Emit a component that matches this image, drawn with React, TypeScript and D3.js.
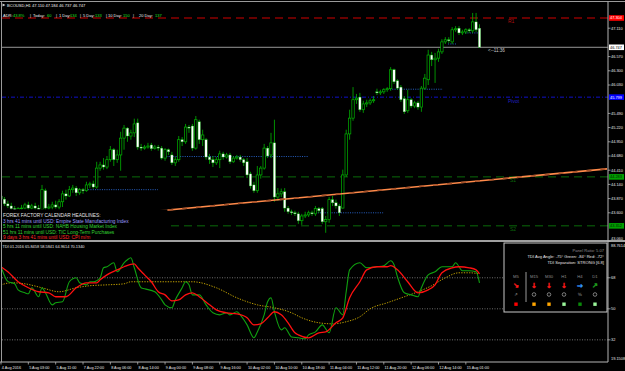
import React from "react";
import * as d3 from "d3";

const FONT = "'Liberation Sans', Arial, sans-serif";

const symbolHeader = "BCOUSD,H1  47.110 47.184 46.737 46.747";
const adrParts: [string, boolean][] = [
  ["ADR:", false], ["43.8%", true], ["|", false], ["Today:", false], ["60", true],
  ["|", false], ["1 Day:", false], ["134", true], ["|", false], ["5 Day:", false], ["133", true],
  ["|", false], ["10 Day:", false], ["150", true], ["|", false], ["20 Day:", false], ["137", true],
];
const adrX = [3, 13, 30, 33, 47, 56, 59, 70, 80, 83, 95, 106, 108, 123, 133, 139, 155];

const timeLabels = [
  "4 Aug 2016", "5 Aug 03:00", "5 Aug 11:00", "7 Aug 22:00", "8 Aug 06:00", "8 Aug 14:00",
  "9 Aug 00:00", "9 Aug 08:00", "9 Aug 16:00", "10 Aug 02:00", "10 Aug 10:00", "10 Aug 18:00",
  "11 Aug 04:00", "11 Aug 12:00", "11 Aug 20:00", "12 Aug 06:00", "12 Aug 14:00", "15 Aug 01:00",
];
const barsPerLabel = 8;

const priceTicks = [47.38, 47.11, 46.84, 46.57, 46.3, 46.03, 45.76, 45.49, 45.22, 44.95, 44.68, 44.41, 44.14, 43.87, 43.6, 43.33, 43.06];

// [open, high, low, close]
const ohlc: number[][] = [
  [43.92, 43.98, 43.83, 43.86], [43.86, 43.90, 43.73, 43.77], [43.77, 43.83, 43.69, 43.73], [43.73, 43.79, 43.64, 43.68],
  [43.68, 43.73, 43.60, 43.64], [43.64, 43.71, 43.58, 43.68], [43.68, 43.75, 43.62, 43.69], [43.69, 43.79, 43.66, 43.75],
  [43.75, 43.81, 43.64, 43.69], [43.69, 43.77, 43.66, 43.73], [43.73, 43.79, 43.64, 43.69], [43.69, 43.75, 43.60, 43.66],
  [43.66, 44.13, 43.62, 44.04], [44.02, 44.06, 43.62, 43.69], [43.69, 43.77, 43.64, 43.71], [43.71, 43.81, 43.66, 43.75],
  [43.75, 43.83, 43.68, 43.71], [43.71, 43.86, 43.66, 43.81], [43.81, 44.02, 43.71, 43.96], [43.96, 44.04, 43.85, 43.92],
  [43.92, 44.11, 43.90, 44.04], [44.04, 44.13, 43.98, 44.07], [44.07, 44.11, 43.92, 43.98], [43.98, 44.07, 43.94, 44.04],
  [44.04, 44.07, 43.96, 44.02], [44.02, 44.19, 44.00, 44.13], [44.13, 44.19, 44.07, 44.15], [44.15, 44.21, 44.06, 44.09],
  [44.09, 44.57, 44.06, 44.45], [44.45, 44.57, 44.40, 44.51], [44.51, 44.64, 44.42, 44.47], [44.47, 44.68, 44.43, 44.61],
  [44.61, 44.87, 44.57, 44.80], [44.80, 44.83, 44.49, 44.61], [44.61, 44.80, 44.55, 44.70], [44.70, 45.14, 44.40, 45.02],
  [45.02, 45.27, 44.80, 45.21], [45.21, 45.23, 44.95, 45.06], [45.06, 45.18, 44.99, 45.12], [45.12, 45.39, 45.04, 45.29],
  [45.31, 45.39, 44.80, 44.85], [44.85, 44.91, 44.78, 44.83], [44.83, 44.89, 44.80, 44.85], [44.85, 44.93, 44.82, 44.87],
  [44.89, 44.93, 44.78, 44.82], [44.82, 44.89, 44.80, 44.85], [44.85, 44.89, 44.78, 44.83], [44.83, 44.87, 44.61, 44.64],
  [44.64, 44.83, 44.59, 44.80], [44.80, 44.82, 44.70, 44.76], [44.70, 44.76, 44.51, 44.55], [44.55, 44.66, 44.49, 44.61],
  [44.61, 45.06, 44.57, 44.99], [44.99, 45.04, 44.87, 44.95], [44.95, 45.29, 44.91, 45.23], [45.23, 45.27, 45.12, 45.21],
  [45.25, 45.29, 44.78, 44.83], [44.83, 45.44, 44.80, 45.37], [45.33, 45.37, 44.91, 44.99], [44.99, 45.18, 44.87, 45.08],
  [44.99, 45.02, 44.61, 44.66], [44.66, 44.72, 44.53, 44.61], [44.61, 44.68, 44.47, 44.55], [44.55, 44.66, 44.51, 44.61],
  [44.61, 44.78, 44.45, 44.72], [44.72, 44.76, 44.61, 44.66], [44.66, 44.74, 44.63, 44.70], [44.70, 44.74, 44.53, 44.57],
  [44.57, 44.68, 44.55, 44.64], [44.64, 44.70, 44.61, 44.66], [44.66, 44.70, 44.57, 44.61], [44.61, 44.64, 44.49, 44.55],
  [44.57, 44.64, 44.26, 44.32], [44.34, 44.38, 44.06, 44.11], [44.13, 44.19, 43.98, 44.02], [44.02, 44.49, 43.98, 44.32],
  [44.32, 44.49, 44.25, 44.45], [44.45, 44.91, 44.42, 44.83], [44.83, 44.87, 44.64, 44.68], [44.70, 45.12, 44.64, 44.93],
  [44.93, 45.37, 43.81, 43.90], [43.90, 44.07, 43.83, 43.96], [43.96, 44.06, 43.90, 44.00], [44.00, 44.07, 43.62, 43.69],
  [43.69, 43.73, 43.58, 43.62], [43.62, 43.66, 43.56, 43.60], [43.60, 43.64, 43.54, 43.58], [43.58, 43.62, 43.39, 43.45],
  [43.45, 43.58, 43.37, 43.54], [43.54, 43.62, 43.50, 43.56], [43.56, 43.64, 43.52, 43.60], [43.60, 43.64, 43.54, 43.58],
  [43.58, 43.73, 43.54, 43.68], [43.68, 43.71, 43.60, 43.64], [43.68, 43.71, 43.39, 43.43], [43.43, 43.54, 43.22, 43.47],
  [43.47, 43.90, 43.41, 43.85], [43.85, 43.92, 43.73, 43.79], [43.79, 43.85, 43.68, 43.73], [43.73, 43.77, 43.54, 43.60],
  [43.69, 44.42, 43.68, 44.32], [44.32, 45.18, 44.28, 45.10], [45.10, 45.56, 44.99, 45.40], [45.40, 45.99, 45.35, 45.75],
  [45.75, 45.86, 45.67, 45.78], [45.80, 45.88, 45.52, 45.56], [45.56, 45.73, 45.50, 45.67], [45.67, 45.75, 45.61, 45.69],
  [45.69, 45.77, 45.65, 45.73], [45.73, 45.82, 45.69, 45.75], [45.90, 45.96, 45.84, 45.88], [45.88, 45.94, 45.84, 45.90],
  [45.90, 45.97, 45.86, 45.94], [45.94, 45.99, 45.90, 45.96], [45.96, 46.37, 45.92, 46.32], [46.32, 46.34, 46.05, 46.09],
  [46.11, 46.14, 45.94, 45.97], [45.99, 46.03, 45.71, 45.75], [45.77, 45.82, 45.48, 45.52], [45.54, 45.94, 45.50, 45.75],
  [45.75, 45.78, 45.59, 45.63], [45.63, 45.73, 45.59, 45.69], [45.69, 45.73, 45.56, 45.61], [45.61, 46.01, 45.52, 45.97],
  [45.97, 46.24, 45.94, 46.16], [46.13, 46.70, 46.03, 46.60], [46.60, 46.66, 46.39, 46.51], [46.51, 46.64, 46.07, 46.54],
  [46.54, 46.72, 46.47, 46.66], [46.66, 46.90, 46.62, 46.85], [46.85, 46.94, 46.81, 46.89], [46.89, 46.94, 46.83, 46.87],
  [46.85, 47.13, 46.81, 47.08], [47.08, 47.15, 47.04, 47.10], [47.11, 47.15, 46.98, 47.02], [47.02, 47.08, 46.98, 47.04],
  [47.04, 47.11, 47.00, 47.08], [47.08, 47.11, 47.02, 47.06], [47.06, 47.40, 47.02, 47.23], [47.23, 47.40, 47.04, 47.08],
  [47.11, 47.184, 46.737, 46.747],
];

const bidPrice = 46.747;
const pivotR1 = 47.304;
const pivotP = 45.799;
const pivotS1 = 44.283;
const pivotS2 = 43.352;
const countdown = "<--11:36";

// [startBar, endBar, price]
const dailyOpens: number[][] = [
  [25.5, 45.9, 44.04], [47.7, 90.1, 44.67], [92.7, 111.8, 43.6], [113.8, 129.3, 45.95], [130.8, 133.1, 46.81], [135.8, 139.6, 47.02],
];
const trendline: number[][] = [[0, 43.355], [177.3, 44.435]];

const headlines: [string, string][] = [
  ["FOREX FACTORY CALENDAR HEADLINES:", "#e6e6e6"],
  ["3 hrs 41 mins until USD: Empire State Manufacturing Index", "#9c9cff"],
  ["5 hrs 11 mins until USD: NAHB Housing Market Index", "#33d633"],
  ["51 hrs 11 mins until USD: TIC Long-Term Purchases", "#33d633"],
  ["9 days 3 hrs 41 mins until USD: CPI m/m", "#ff2424"],
];

const tdiTitle = "TDI 01.2016 65.8458 58.5841 64.9614 70.1340";
const tdiMin = 19.1508;
const tdiMax = 88.7614;
const tdiLevels = [68, 50, 32];

const tdiGreen: number[][] = [
  [0, 74.6], [2, 65.9], [4, 64.5], [5, 61.0], [7, 59.3], [8, 58.7], [9, 62.2], [11, 57.0], [12, 62.2], [13, 59.3],
  [15, 52.3], [16, 53.5], [18, 54.1], [20, 65.7], [22, 68.0], [23, 65.1], [25, 63.9], [26, 65.7], [27, 65.7], [29, 68.0],
  [30, 73.8], [31, 74.4], [33, 76.7], [34, 71.5], [36, 76.7], [37, 78.5], [38, 79.6], [39, 73.8], [41, 62.2], [42, 61.6],
  [45, 59.9], [47, 55.2], [48, 52.3], [50, 50.6], [51, 55.2], [53, 62.2], [54, 65.7], [55, 63.9], [56, 58.1], [58, 58.1],
  [60, 52.3], [62, 47.7], [64, 46.5], [66, 47.7], [67, 46.5], [69, 48.3], [70, 46.5], [72, 40.7], [74, 33.2], [75, 36.6],
  [77, 46.5], [78, 54.1], [79, 56.4], [80, 48.3], [82, 37.8], [83, 39.0], [85, 33.7], [87, 33.2], [89, 32.6], [90, 34.9],
  [92, 36.6], [94, 40.7], [96, 36.1], [98, 50.6], [100, 46.5], [101, 59.9], [102, 72.6], [105, 76.7], [107, 73.8], [110, 74.4],
  [112, 75.0], [114, 77.9], [115, 75.6], [116, 68.6], [118, 59.3], [120, 58.1], [122, 57.0], [123, 62.2], [125, 69.7], [127, 71.5],
  [129, 74.4], [132, 74.4], [133, 76.7], [135, 72.1], [137, 72.1], [139, 71.5], [140, 65.1],
];
const tdiRed: number[][] = [
  [0, 74.4], [2, 71.5], [5, 65.7], [8, 62.2], [11, 59.9], [14, 59.3], [16, 57.0], [19, 57.0], [22, 62.2], [25, 65.1],
  [28, 65.1], [29, 66.8], [31, 69.7], [34, 72.6], [36, 74.4], [39, 76.1], [40, 73.8], [42, 69.7], [44, 65.7], [46, 59.9],
  [48, 58.1], [50, 54.6], [52, 55.2], [54, 58.1], [56, 59.3], [58, 57.0], [61, 52.3], [63, 49.4], [66, 47.7], [69, 47.1],
  [72, 44.8], [74, 40.7], [76, 41.3], [78, 44.8], [80, 48.3], [82, 46.5], [84, 41.9], [86, 36.1], [87, 34.9], [90, 33.2],
  [93, 36.1], [95, 36.6], [98, 41.9], [100, 44.8], [102, 56.4], [105, 65.7], [107, 72.6], [110, 74.4], [113, 74.4], [114, 75.0],
  [116, 72.6], [119, 65.7], [122, 59.3], [125, 61.0], [127, 63.9], [129, 70.9], [132, 73.8], [134, 74.4], [137, 73.8], [139, 72.6],
  [140, 70.3],
];
const tdiYellow: number[][] = [
  [0, 63.9], [3, 65.1], [7, 64.5], [12, 62.2], [17, 59.9], [22, 62.2], [26, 63.4], [31, 63.9], [36, 64.5], [38, 65.7],
  [43, 65.7], [48, 65.7], [56, 65.7], [63, 62.2], [69, 56.4], [75, 52.3], [80, 50.6], [85, 47.7], [88, 44.8], [93, 41.9],
  [97, 41.3], [101, 42.5], [105, 45.4], [108, 50.0], [113, 53.5], [118, 57.0], [122, 59.9], [126, 63.4], [130, 68.0], [134, 70.9],
  [137, 70.9], [140, 70.3],
];

const panelLines = ["Panel Ratio: 5.07", "TDI Avg Angle: -75°  Green: -84°  Red: -72°", "TDI Separation: STRONG [6.8]"];
const panelCols = ["M5", "M15", "M30", "H1", "H4", "D1"];
const panelArrows: [string, string][] = [["↘", "#ff1a1a"], ["↓", "#ff1a1a"], ["↓", "#ff1a1a"], ["↓", "#ff1a1a"], ["→", "#3399ff"], ["↗", "#1fa01f"]];
const panelMarks = ["⇗", "o", "o", "o", "%", "o"];
const panelSquares = ["#ff0000", "#ffa500", "#ffa500", "#9af59a", "#0a8a0a", "#9af59a"];

export default function App() {
  const W = 625, H = 371;
  const plotL = 2, plotR = 608;
  const mainT = 2, mainB = 240.5;
  const indT = 242, indB = 362;
  const x = d3.scaleLinear().domain([0, 140]).range([1, 479.5]);
  const y = d3.scaleLinear().domain([43.06, 47.38]).range([241.2, 14]);
  const yi = d3.scaleLinear().domain([tdiMin, tdiMax]).range([indB, indT]);
  const green = "#00b400";
  const bodyW = 2.4;

  const lineI = d3.line<number[]>().x((d) => x(d[0])).y((d) => yi(d[1])).curve(d3.curveMonotoneX);
  const trendPath = d3.line<number[]>().x((d) => x(d[0])).y((d) => y(d[1]))(trendline) || "";

  const axisText = { fontFamily: FONT, fontSize: 3.9, fill: "#e6e6e6" } as const;
  const boxes: [number, string, string][] = [
    [pivotR1, "#ff0000", "#ffffff"], [bidPrice, "#ffffff", "#000000"], [pivotP, "#0000ff", "#ffffff"],
    [pivotS1, "#00a000", "#002000"], [pivotS2, "#00a000", "#002000"],
  ];
  // tick labels hidden beneath a price box (as in the terminal)
  const visibleTicks = priceTicks.filter((p) => boxes.every((b) => Math.abs(y(p) - y(b[0])) > 5.5));
  const colX = [516, 534, 549, 564, 580, 595];

  return (
    <svg width={W} height={H} style={{ position: "absolute", left: 0, top: 0, background: "#000" }} fontFamily={FONT}>
      <rect x={0} y={0} width={W} height={H} fill="#000" />
      <defs>
        <clipPath id="mainClip"><rect x={plotL} y={mainT} width={plotR - plotL} height={mainB - mainT} /></clipPath>
        <clipPath id="indClip"><rect x={plotL} y={indT} width={plotR - plotL} height={indB - indT} /></clipPath>
      </defs>

      {/* main window */}
      <g clipPath="url(#mainClip)">
        <line x1={plotL} x2={plotR} y1={y(pivotR1)} y2={y(pivotR1)} stroke="#8b0000" strokeWidth={1.4} strokeDasharray="8,5" />
        <line x1={plotL} x2={plotR} y1={y(pivotP)} y2={y(pivotP)} stroke="#1010c8" strokeWidth={1} strokeDasharray="4,2,1,2" />
        <line x1={plotL} x2={plotR} y1={y(pivotS1)} y2={y(pivotS1)} stroke="#0a6a0a" strokeWidth={1} strokeDasharray="8,5" />
        <line x1={plotL} x2={plotR} y1={y(pivotS2)} y2={y(pivotS2)} stroke="#0a6a0a" strokeWidth={1} strokeDasharray="8,5" />
        <line x1={plotL} x2={plotR} y1={y(bidPrice)} y2={y(bidPrice)} stroke="#a8a8a8" strokeWidth={0.9} />
        {dailyOpens.map((d, i) => (
          <line key={"do" + i} x1={x(d[0])} x2={x(d[1])} y1={y(d[2])} y2={y(d[2])} stroke="#2a6ad8" strokeWidth={0.9} strokeDasharray="1,1.3" />
        ))}
        {ohlc.map((d, i) => {
          const [o, h, l, c] = d;
          const cx = x(i);
          const top = y(Math.max(o, c));
          const bot = y(Math.min(o, c));
          const bull = c >= o;
          return (
            <g key={"c" + i}>
              <line x1={cx} x2={cx} y1={y(h)} y2={y(l)} stroke={green} strokeWidth={0.8} />
              <rect x={cx - bodyW / 2} y={top} width={bodyW} height={Math.max(bot - top, 0.8)}
                fill={bull ? "#000" : "#ffffff"} stroke={green} strokeWidth={bull ? 0.7 : 0.35} />
            </g>
          );
        })}
        <path d={trendPath} stroke="#ff8a4a" strokeWidth={1.6} fill="none" />
        <path d={trendPath} stroke="#a8522a" strokeWidth={1.6} fill="none" strokeDasharray="5,9" />
        <rect x={plotL} y={209.3} width={165.5} height={32} fill="#000" />
        {headlines.map((h, i) => (
          <text key={"hl" + i} x={3} y={217 + i * 5.55} fontSize={4.8} fill={h[1]}>{h[0]}</text>
        ))}
      </g>
      <text x={508} y={22.5} fontSize={5} fill="#b01010">R1</text>
      <text x={508} y={102.5} fontSize={5} fill="#2020c0">Pivot</text>
      <text x={510} y={182} fontSize={5} fill="#0a6a0a">S1</text>
      <text x={510} y={231} fontSize={5} fill="#0a6a0a">S2</text>
      <text x={488} y={52} fontSize={4.6} fill="#c8c8c8">{countdown}</text>

      {/* header */}
      <path d="M2.5,3.5 L5.5,5 L2.5,6.5 Z" fill="#d0d0d0" />
      <text x={7} y={7} fontSize={4.1} fill="#f0f0f0">{symbolHeader}</text>
      {adrParts.map((p, i) => (
        <text key={"adr" + i} x={adrX[i]} y={17.3} fontSize={4} fill={p[1] ? "#20e020" : "#f0f0f0"}>{p[0]}</text>
      ))}

      {/* indicator window */}
      <g clipPath="url(#indClip)">
        {tdiLevels.map((v) => (
          <line key={"lv" + v} x1={plotL} x2={plotR} y1={yi(v)} y2={yi(v)} stroke="#8a8a8a" strokeWidth={0.8} strokeDasharray="1,1.5" />
        ))}
        <path d={lineI(tdiYellow) || ""} stroke="#c0a000" strokeWidth={1} fill="none" strokeDasharray="1.3,1.3" />
        <path d={lineI(tdiGreen) || ""} stroke="#10a010" strokeWidth={1.1} fill="none" />
        <path d={lineI(tdiRed) || ""} stroke="#ff1010" strokeWidth={1.3} fill="none" />
      </g>
      <text x={2.5} y={248} fontSize={3.9} fill="#e6e6e6">{tdiTitle}</text>

      {/* panel */}
      <rect x={504} y={243} width={103} height={69} fill="#000" stroke="#c8c8c8" strokeWidth={1} />
      {panelLines.map((t, i) => (
        <text key={"pl" + i} x={604} y={251.5 + i * 6} fontSize={4.1} textAnchor="end" fill={i === 0 ? "#8c8c8c" : "#e6e6e6"}>{t}</text>
      ))}
      <line x1={526} x2={526} y1={272} y2={302} stroke="#c0c0c0" strokeWidth={0.8} />
      {panelCols.map((c, i) => (
        <g key={"pc" + i}>
          <text x={colX[i]} y={278} fontSize={4.2} textAnchor="middle" fill="#8c8c8c">{c}</text>
          <text x={colX[i]} y={287.5} fontSize={7} fontWeight="bold" textAnchor="middle" fill={panelArrows[i][1]}
            stroke={panelArrows[i][1]} strokeWidth={0.4} fontFamily="'DejaVu Sans', sans-serif">{panelArrows[i][0]}</text>
          {panelMarks[i] === "o" ? (
            <circle cx={colX[i]} cy={294.5} r={1.8} fill="none" stroke="#9a9a9a" strokeWidth={0.8} />
          ) : (
            <text x={colX[i]} y={296.2} fontSize={4.5} textAnchor="middle" fill="#9a9a9a" fontFamily="'DejaVu Sans', sans-serif">{panelMarks[i]}</text>
          )}
          <rect x={colX[i] - 1.7} y={302.5} width={3.4} height={3.4} fill={panelSquares[i]} />
        </g>
      ))}

      {/* frame */}
      <line x1={0} x2={W} y1={1.5} y2={1.5} stroke="#9a9a9a" strokeWidth={1} />
      <line x1={1.5} x2={1.5} y1={1.5} y2={indB} stroke="#9a9a9a" strokeWidth={1} />
      <line x1={0} x2={W} y1={241} y2={241} stroke="#a0a0a0" strokeWidth={1.8} />
      <line x1={plotR} x2={plotR} y1={1.5} y2={indB} stroke="#b4b4b4" strokeWidth={1} />
      <line x1={0} x2={plotR} y1={indB} y2={indB} stroke="#b4b4b4" strokeWidth={1} />

      {/* price axis */}
      {visibleTicks.map((p, i) => (
        <g key={"pt" + p}>
          <line x1={plotR} x2={plotR + 2.5} y1={y(p)} y2={y(p)} stroke="#b4b4b4" strokeWidth={0.8} />
          <text x={611} y={i === visibleTicks.length - 1 ? y(p) - 0.8 : y(p) + 1.4} {...axisText}>{p.toFixed(3)}</text>
        </g>
      ))}
      {boxes.map((b, i) => (
        <g key={"bx" + i}>
          <rect x={609} y={y(b[0]) - 2.8} width={15} height={5.6} fill={b[1]} />
          <text x={610} y={y(b[0]) + 1.4} fontFamily={FONT} fontSize={3.9} fill={b[2]}>{b[0].toFixed(3)}</text>
        </g>
      ))}

      {/* indicator axis */}
      <text x={611} y={yi(tdiMax) + 4.6} {...axisText}>{tdiMax.toFixed(4)}</text>
      {tdiLevels.map((v) => (
        <g key={"il" + v}>
          <line x1={plotR} x2={plotR + 2.5} y1={yi(v)} y2={yi(v)} stroke="#b4b4b4" strokeWidth={0.8} />
          <text x={611} y={yi(v) + 1.4} {...axisText}>{v}</text>
        </g>
      ))}
      <text x={611} y={yi(tdiMin) - 2.5} {...axisText}>{tdiMin.toFixed(4)}</text>

      {/* time axis */}
      {timeLabels.map((t, i) => {
        const tx = x(i * barsPerLabel);
        return (
          <g key={"tl" + i}>
            <line x1={tx} x2={tx} y1={indB} y2={indB + 2.5} stroke="#b4b4b4" strokeWidth={0.8} />
            <text x={tx + 0.8} y={368.5} fontFamily={FONT} fontSize={3.8} fill="#e6e6e6">{t}</text>
          </g>
        );
      })}
    </svg>
  );
}
